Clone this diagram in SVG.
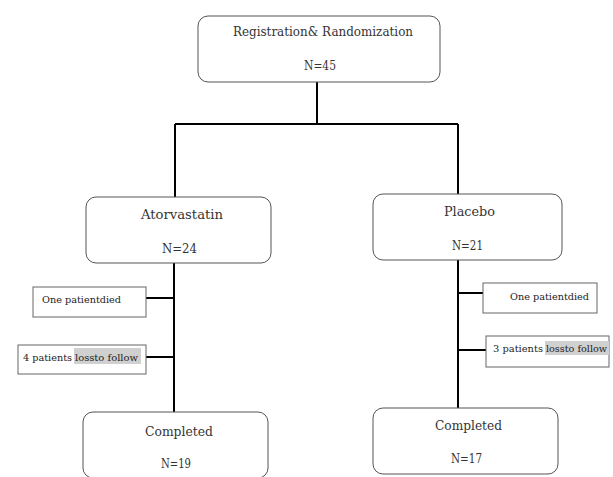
<svg xmlns="http://www.w3.org/2000/svg" width="613" height="477" viewBox="0 0 613 477">
<style>
.box{fill:#fff;stroke:#555;stroke-width:1}
.sbox{fill:#fff;stroke:#666;stroke-width:1}
.conn{stroke:#000;stroke-width:2;fill:none}
.t{font-family:"DejaVu Serif","Liberation Serif",serif;font-size:12px;fill:#333}
.s{font-family:"DejaVu Serif","Liberation Serif",serif;font-size:9px;fill:#222}
.hl{fill:#d0d0d0}
</style>
<rect width="613" height="477" fill="#fff"/>
<g id="connectors">
<path class="conn" d="M317 82V124M175 124H458M175 124V197M458 124V194"/>
<path class="conn" d="M174 263V412M146 298H174M146 357H174"/>
<path class="conn" d="M458 260V408M458 293H483M458 350H486"/>
</g>
<g id="n-reg">
<rect class="box" x="198" y="16" width="242" height="66" rx="10"/>
<text class="t" x="233" y="36" textLength="180" lengthAdjust="spacingAndGlyphs">Registration&amp; Randomization</text>
<text class="t" x="304" y="70" textLength="32" lengthAdjust="spacingAndGlyphs">N=45</text>
</g>
<g id="n-ator">
<rect class="box" x="86" y="197" width="185" height="66" rx="10"/>
<text class="t" x="141" y="219" textLength="82" lengthAdjust="spacingAndGlyphs">Atorvastatin</text>
<text class="t" x="162" y="253" textLength="35" lengthAdjust="spacingAndGlyphs">N=24</text>
</g>
<g id="n-plac">
<rect class="box" x="373" y="194" width="189" height="66" rx="10"/>
<text class="t" x="444" y="216" textLength="51" lengthAdjust="spacingAndGlyphs">Placebo</text>
<text class="t" x="452" y="250" textLength="31" lengthAdjust="spacingAndGlyphs">N=21</text>
</g>
<g id="n-died-l">
<rect class="sbox" x="33" y="287" width="113" height="30"/>
<text class="s" x="42" y="303" textLength="79" lengthAdjust="spacingAndGlyphs">One patientdied</text>
</g>
<g id="n-loss-l">
<rect class="sbox" x="18" y="345" width="128" height="29"/>
<rect class="hl" x="74" y="348" width="67" height="16"/>
<text class="s" x="23" y="361"><tspan x="23" textLength="49" lengthAdjust="spacingAndGlyphs">4 patients</tspan><tspan x="75" textLength="63" lengthAdjust="spacingAndGlyphs">lossto follow</tspan></text>
</g>
<g id="n-died-r">
<rect class="sbox" x="483" y="283" width="114" height="30"/>
<text class="s" x="510" y="300" textLength="79" lengthAdjust="spacingAndGlyphs">One patientdied</text>
</g>
<g id="n-loss-r">
<rect class="sbox" x="486" y="336" width="123" height="31"/>
<rect class="hl" x="545" y="341" width="64" height="14"/>
<text class="s" x="493" y="352"><tspan x="493" textLength="50" lengthAdjust="spacingAndGlyphs">3 patients</tspan><tspan x="546" textLength="61" lengthAdjust="spacingAndGlyphs">lossto follow</tspan></text>
</g>
<g id="n-comp-l">
<rect class="box" x="83" y="412" width="185" height="66" rx="10"/>
<text class="t" x="145" y="436" textLength="68" lengthAdjust="spacingAndGlyphs">Completed</text>
<text class="t" x="161" y="468" textLength="30" lengthAdjust="spacingAndGlyphs">N=19</text>
</g>
<g id="n-comp-r">
<rect class="box" x="373" y="408" width="185" height="66" rx="10"/>
<text class="t" x="435" y="430" textLength="67" lengthAdjust="spacingAndGlyphs">Completed</text>
<text class="t" x="451" y="463" textLength="31" lengthAdjust="spacingAndGlyphs">N=17</text>
</g>
</svg>
